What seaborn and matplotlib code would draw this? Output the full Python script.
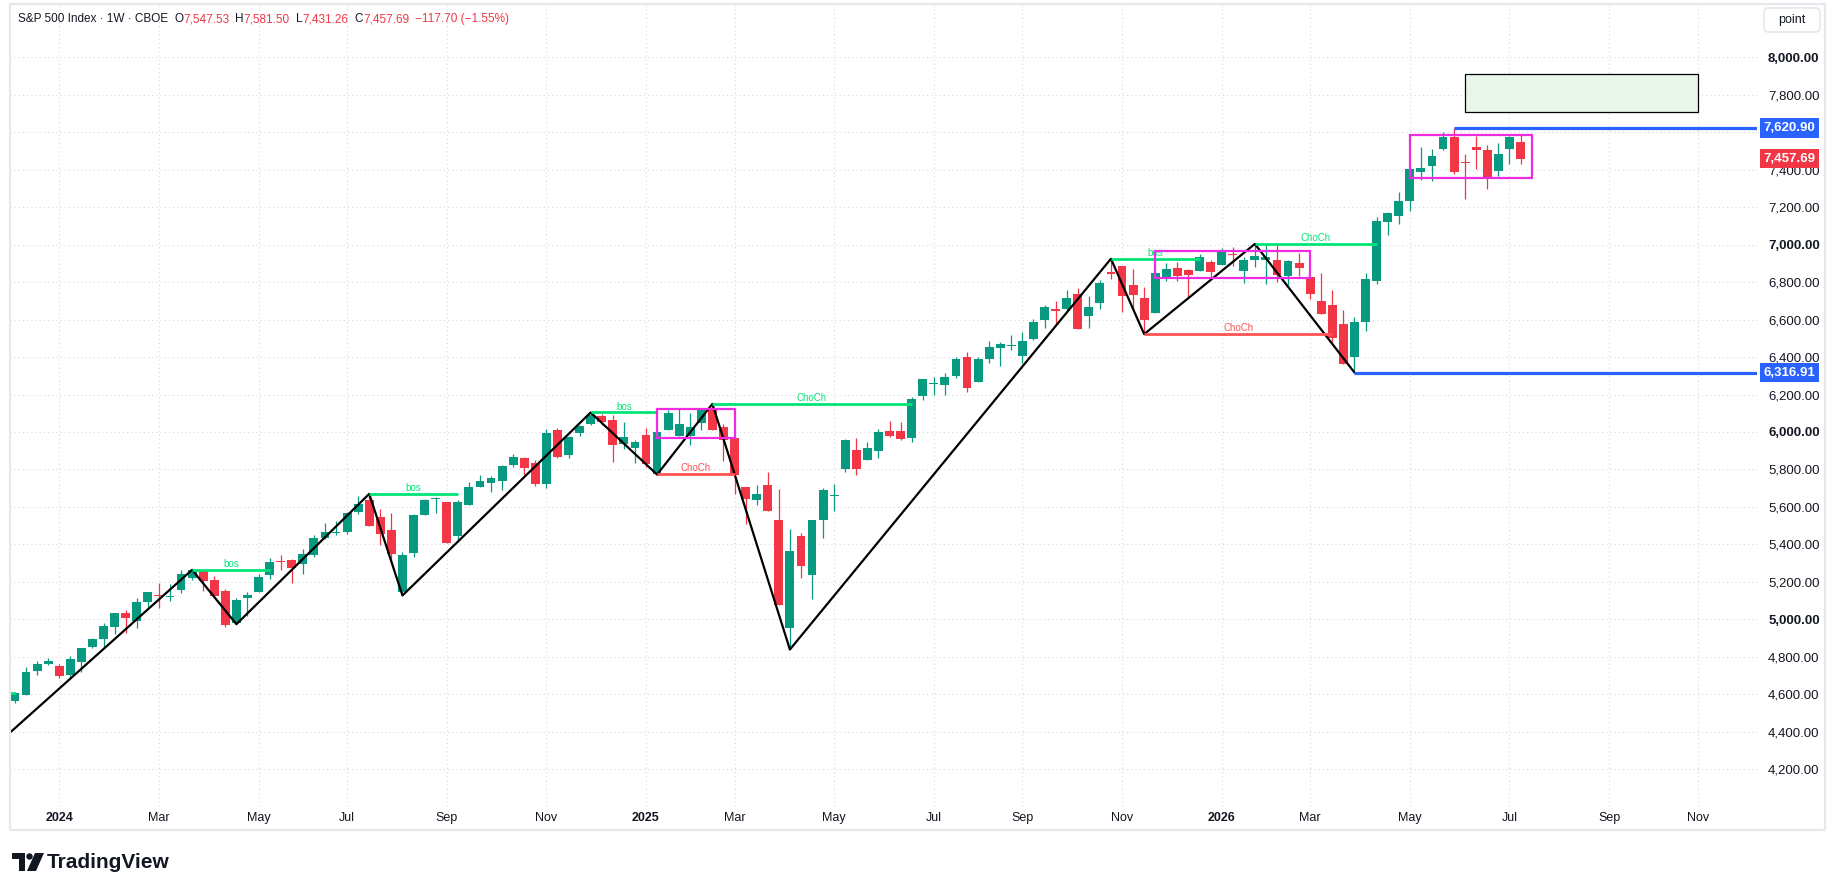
import matplotlib
matplotlib.use("Agg")
import matplotlib.pyplot as plt
import matplotlib.transforms as mtransforms
from matplotlib.patches import Rectangle, FancyBboxPatch, Polygon, Circle
import numpy as np
import pandas as pd
import seaborn as sns

# weekly S&P 500 candles, first bar = week of 2023-12-04
opens = [4565, 4597, 4725, 4762, 4750, 4704, 4775, 4853, 4895, 4959,
         5032, 4991, 5094, 5133, 5119, 5156, 5222, 5258, 5213, 5153,
         4982, 5112, 5144, 5236, 5311, 5316, 5298, 5343, 5432, 5460,
         5469, 5572, 5638, 5546, 5478, 5149, 5352, 5555, 5640, 5626,
         5443, 5612, 5709, 5727, 5736, 5825, 5860, 5836, 5724, 6012,
         5875, 5994, 6040, 6084, 6065, 5937, 5916, 5985, 5777, 6013,
         5978, 5978, 6047, 6118, 6026, 5968, 5706, 5635, 5718, 5531,
         4954, 5444, 5235, 5528, 5661, 5804, 5905, 5853, 5896, 6004,
         6004, 5969, 6191, 6258, 6249, 6301, 6401, 6269, 6387, 6447,
         6458, 6403, 6497, 6600, 6657, 6657, 6737, 6621, 6689, 6852,
         6884, 6785, 6716, 6636, 6822, 6876, 6865, 6861, 6906, 6893,
         6950, 6861, 6920, 6915, 6918, 6830, 6903, 6827, 6699, 6679,
         6578, 6400, 6587, 6803, 7120, 7150, 7230, 7387, 7417, 7511,
         7573, 7442, 7520, 7506, 7390, 7508, 7547.53]
highs = [4615, 4744, 4780, 4796, 4760, 4807, 4849, 4899, 4979, 5036,
         5053, 5117, 5148, 5192, 5187, 5263, 5265, 5262, 5231, 5165,
         5116, 5144, 5245, 5330, 5343, 5320, 5378, 5449, 5512, 5526,
         5572, 5658, 5670, 5590, 5567, 5359, 5563, 5643, 5654, 5629,
         5638, 5732, 5768, 5763, 5825, 5884, 5866, 5853, 6017, 6022,
         5981, 6038, 6104, 6097, 6088, 6052, 5955, 6020, 6008, 6115,
         6120, 6102, 6124, 6150, 6044, 5968, 5706, 5715, 5786, 5697,
         5483, 5462, 5533, 5702, 5724, 5964, 5967, 5949, 6017, 6061,
         6052, 6186, 6285, 6295, 6315, 6399, 6426, 6399, 6484, 6479,
         6515, 6532, 6604, 6675, 6701, 6755, 6767, 6728, 6812, 6924,
         6888, 6867, 6772, 6852, 6900, 6906, 6868, 6950, 6915, 6980,
         6986, 6932, 7003, 6998, 6998, 6915, 6956, 6827, 6848, 6759,
         6652, 6613, 6850, 7147, 7173, 7280, 7404, 7520, 7511, 7600,
         7620.90, 7484, 7577, 7532, 7543, 7579, 7581.50]
lows = [4553, 4597, 4704, 4757, 4686, 4695, 4721, 4849, 4854, 4920,
        4929, 4956, 5068, 5059, 5098, 5139, 5210, 5151, 5116, 4961,
        4975, 5018, 5144, 5215, 5263, 5197, 5240, 5332, 5428, 5453,
        5457, 5563, 5498, 5395, 5309, 5128, 5332, 5555, 5567, 5407,
        5413, 5608, 5706, 5679, 5693, 5812, 5768, 5711, 5700, 5860,
        5860, 5981, 6038, 6035, 5839, 5907, 5834, 5812, 5773, 6012,
        5976, 5928, 6008, 6012, 5843, 5670, 5507, 5608, 5576, 5075,
        4840, 5222, 5107, 5435, 5581, 5789, 5773, 5850, 5862, 5972,
        5955, 5949, 6173, 6200, 6200, 6287, 6216, 6266, 6369, 6351,
        6435, 6367, 6493, 6555, 6577, 6648, 6550, 6555, 6657, 6817,
        6639, 6657, 6522, 6636, 6804, 6808, 6719, 6858, 6826, 6892,
        6888, 6796, 6879, 6787, 6799, 6786, 6830, 6711, 6627, 6480,
        6361, 6317, 6537, 6791, 7049, 7111, 7177, 7342, 7337, 7502,
        7374, 7241, 7404, 7298, 7364, 7428, 7431.26]
closes = [4609, 4721, 4760, 4776, 4698, 4787, 4846, 4894, 4963, 5032,
          5009, 5091, 5144, 5126, 5124, 5240, 5263, 5204, 5124, 4970,
          5105, 5133, 5229, 5307, 5304, 5277, 5350, 5437, 5467, 5465,
          5569, 5615, 5501, 5457, 5347, 5345, 5558, 5638, 5649, 5407,
          5626, 5706, 5738, 5756, 5818, 5866, 5807, 5724, 5996, 5869,
          5972, 6031, 6092, 6052, 5928, 5972, 5946, 5827, 5999, 6102,
          6044, 6026, 6118, 6013, 5955, 5768, 5640, 5670, 5581, 5075,
          5364, 5283, 5528, 5691, 5665, 5958, 5800, 5914, 5999, 5976,
          5964, 6177, 6282, 6262, 6296, 6390, 6237, 6390, 6452, 6470,
          6463, 6484, 6586, 6666, 6643, 6714, 6550, 6666, 6796, 6845,
          6728, 6733, 6600, 6849, 6870, 6831, 6835, 6934, 6856, 6963,
          6943, 6915, 6938, 6932, 6835, 6912, 6876, 6738, 6631, 6503,
          6364, 6587, 6818, 7125, 7170, 7234, 7404, 7410, 7472, 7573,
          7387, 7435, 7502, 7360, 7484, 7575.39, 7457.69]

# zigzag swing points (bar index, price)
swing_idx = [-6, 16, 20, 32, 35, 52, 58, 63, 70, 99, 102, 112, 121]
swing_price = [4104, 5265, 4975, 5670, 5128, 6104, 5773, 6150, 4840, 6924, 6522, 7003, 6317]

# structure breaks
struct_start = [-20, 16, 32, 52, 58, 63, 99, 102, 112]
struct_end = [0, 23, 40, 58, 65, 81, 107, 119, 123]
struct_level = [4607, 5265, 5670, 6104, 5775, 6150, 6922, 6522, 7003]
struct_text = ["", "bos", "bos", "bos", "ChoCh", "ChoCh", "bos", "ChoCh", "ChoCh"]
struct_bull = [True, True, True, True, False, True, True, False, True]

# consolidation boxes
box_start = [58, 103, 126]
box_end = [65, 117, 137]
box_low = [5969, 6822, 7356]
box_high = [6124, 6968, 7582]

# target zone
target_start, target_end = 131, 152
target_low, target_high = 7708, 7908

# horizontal levels
level_start = [130, 121]
level_price = [7620.90, 6316.91]

price_ticks = list(range(4200, 8001, 200))
hidden_ticks = [7600]  # covered by the level tag
month_labels = {1: None, 3: "Mar", 5: "May", 7: "Jul", 9: "Sep", 11: "Nov"}

GREEN = "#089981"
RED = "#F23645"
DARK = "#131722"
W, H = 1835, 892

sns.set_theme(style="white")
plt.rcParams["font.family"] = ["Liberation Sans", "DejaVu Sans"]

fig = plt.figure(figsize=(W / 100, H / 100), dpi=100)
fig.patch.set_facecolor("white")
ax = fig.add_axes([10 / W, 1 - 806 / H, 1747 / W, 802 / H])
ax.set_facecolor("none")
ax.set_xlim(-0.4517, 157.36)
ax.set_ylim(4005.3, 8282.7)
for s in ax.spines.values():
    s.set_visible(False)

# time axis from weekly bar dates
dates = pd.date_range("2023-12-04", periods=153, freq="7D")
tick_pos, tick_lab, tick_bold = [], [], []
for i, d in enumerate(dates):
    if i > 0 and d.month != dates[i - 1].month and d.month in month_labels:
        tick_pos.append(i)
        tick_lab.append(str(d.year) if d.month == 1 else month_labels[d.month])
        tick_bold.append(d.month == 1)

ax.set_xticks(tick_pos)
ax.set_xticklabels(tick_lab, fontsize=9, color=DARK)
for lab, b in zip(ax.get_xticklabels(), tick_bold):
    if b:
        lab.set_fontweight("bold")
ax.yaxis.tick_right()
ax.set_yticks(price_ticks)
ax.set_yticklabels(["" if v in hidden_ticks else f"{v:,.2f}" for v in price_ticks],
                   fontsize=9.5, color=DARK)
for lab, v in zip(ax.get_yticklabels(), price_ticks):
    if v % 1000 == 0:
        lab.set_fontweight("bold")
ax.tick_params(axis="y", length=0, pad=8)
ax.tick_params(axis="x", length=0, pad=4)

grid_kw = dict(color="#d3d6dd", lw=0.75, linestyle=(0, (1, 3)), zorder=0)
for p in price_ticks:
    ax.axhline(p, **grid_kw)
for t in tick_pos:
    ax.axvline(t, **grid_kw)

# candles
idx = np.arange(len(opens))
o = np.array(opens)
c = np.array(closes)
colors = [GREEN if cc >= oo else RED for oo, cc in zip(o, c)]
ax.vlines(idx, lows, highs, colors=colors, lw=0.9, zorder=2)
body_lo = np.minimum(o, c)
body_h = np.maximum(np.abs(c - o), 5.5)
ax.bar(idx, body_h, bottom=body_lo, width=0.8, color=colors, linewidth=0, zorder=3)

# zigzag
sns.lineplot(x=swing_idx, y=swing_price, ax=ax, color="black", lw=1.6,
             sort=False, estimator=None, zorder=4)

# structure lines
for s0, s1, lvl, txt, bull in zip(struct_start, struct_end, struct_level, struct_text, struct_bull):
    col = "#00E676" if bull else "#FF5252"
    ax.hlines(lvl, s0, s1, colors=col, lw=2.0, zorder=4)
    if txt:
        ax.annotate(txt, ((s0 + s1) / 2, lvl), xytext=(0, 0.5), textcoords="offset points",
                    ha="center", va="bottom", fontsize=7, color=col, zorder=5)

# boxes
for b0, b1, lo, hi in zip(box_start, box_end, box_low, box_high):
    ax.add_patch(Rectangle((b0, lo), b1 - b0, hi - lo, fill=False, ec="#F02CE3", lw=1.6, zorder=5))

ax.add_patch(Rectangle((target_start, target_low), target_end - target_start,
                       target_high - target_low, fc="#E8F5E9", ec="black", lw=0.9, zorder=2))

# levels and price tags
xmax = ax.get_xlim()[1]
for s0, lvl in zip(level_start, level_price):
    ax.hlines(lvl, s0, xmax, colors="#2962FF", lw=2.3, zorder=4)

tag_tr = mtransforms.offset_copy(
    mtransforms.blended_transform_factory(ax.transAxes, ax.transData), fig=fig, x=6.5, y=0, units="dots")
for lvl, col in zip(level_price + [closes[-1]], ["#2962FF", "#2962FF", RED]):
    ax.text(1.0, lvl, f"{lvl:,.2f}", transform=tag_tr, ha="left", va="center", fontsize=9.5,
            color="white", fontweight="bold", clip_on=False, zorder=10,
            bbox=dict(boxstyle="square,pad=0.28", fc=col, ec="none"))

# overlay in pixel coordinates: frame, header, button, logo
ov = fig.add_axes([0, 0, 1, 1], zorder=5)
ov.set_xlim(0, W)
ov.set_ylim(H, 0)
ov.axis("off")
ov.patch.set_alpha(0)
ov.add_patch(Rectangle((10, 4), 1815, 826, fill=False, ec="#e6e8ee", lw=1.6))
ov.add_patch(FancyBboxPatch((1764, 8), 56, 24, boxstyle="round,pad=0,rounding_size=4",
                            fc="white", ec="#e0e3eb", lw=1))
ov.text(1792, 20, "point", ha="center", va="center", fontsize=9, color=DARK)

change = closes[-1] - closes[-2]
pct = change / closes[-2] * 100
header = [("S&P 500 Index · 1W · CBOE", DARK, 6),
          ("O", DARK, 0), (f"{opens[-1]:,.2f}", RED, 6),
          ("H", DARK, 0), (f"{highs[-1]:,.2f}", RED, 6),
          ("L", DARK, 0), (f"{lows[-1]:,.2f}", RED, 6),
          ("C", DARK, 0), (f"{closes[-1]:,.2f}", RED, 6),
          (f"\u2212{abs(change):.2f} (\u2212{abs(pct):.2f}%)", RED, 0)]
renderer = fig.canvas.get_renderer()
x = 18
for txt, col, gap in header:
    t = ov.text(x, 19, txt, ha="left", va="center", fontsize=8.5, color=col)
    x += t.get_window_extent(renderer).width + gap

# TradingView logo
ov.add_patch(Polygon([(12, 853), (25, 853), (25, 871), (19, 871), (19, 859), (12, 859)],
                     closed=True, fc=DARK, ec="none"))
ov.add_patch(Circle((29.5, 856.5), 3.2, fc=DARK, ec="none"))
ov.add_patch(Polygon([(35, 853), (44, 853), (36, 871), (27, 871)], closed=True, fc=DARK, ec="none"))
ov.text(47, 862, "TradingView", ha="left", va="center", fontsize=15, fontweight="bold", color=DARK)

fig.savefig("out.png", dpi=100)
